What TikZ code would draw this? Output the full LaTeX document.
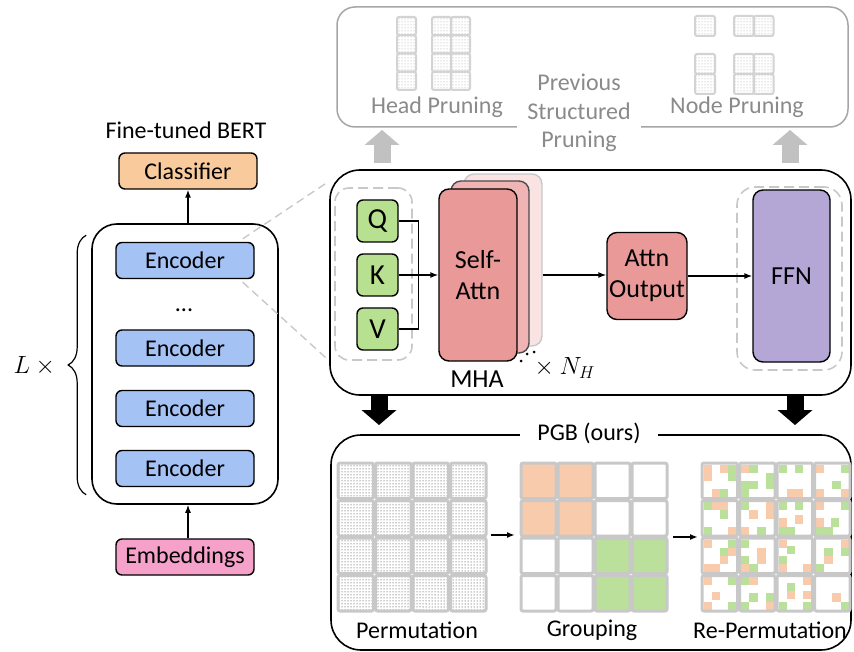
\documentclass[tikz,border=0pt]{standalone}
\usepackage{fontspec}
\setmainfont{Carlito}
\usetikzlibrary{arrows.meta,patterns,decorations.pathreplacing}

\definecolor{clsorange}{HTML}{F9CB9C}
\definecolor{encblue}{HTML}{A4C2F4}
\definecolor{embpink}{HTML}{F6A1C9}
\definecolor{qkvgreen}{HTML}{B7E091}
\definecolor{attnred}{HTML}{EA9999}
\definecolor{headred}{HTML}{F1B4B4}
\definecolor{ghostred}{HTML}{FAE3E3}
\definecolor{ffnpurple}{HTML}{B4A7D6}
\definecolor{grpor}{HTML}{F8CBAD}
\definecolor{grpgr}{HTML}{BBE09B}
\definecolor{cellgray}{HTML}{C8C8C8}
\definecolor{fadegray}{HTML}{A6A6A6}
\definecolor{fadetext}{HTML}{8A8A8A}

\begin{document}
\begin{tikzpicture}[x=1pt,y=-1pt,
  every node/.style={font=\fontsize{24}{29}\selectfont},
  blk/.style={draw,line width=1.4,rounded corners=6,inner sep=0},
  encbox/.style={blk,minimum width=138,minimum height=36},
  qkvbox/.style={blk,fill=qkvgreen,minimum width=41,minimum height=42,font=\fontsize{29}{33}\selectfont},
  headbox/.style={blk,rounded corners=10,minimum width=78,minimum height=172},
  bigbox/.style={draw,line width=1.6,rounded corners=30,inner sep=0},
  dashbox/.style={draw=cellgray,line width=1.6,dash pattern=on 10pt off 5pt,rounded corners=14,inner sep=0},
  midfont/.style={font=\fontsize{26}{31}\selectfont},
  conn/.style={line width=1.4,-{Latex[length=8pt,width=6pt]}},
  zoomline/.style={draw=cellgray,line width=1.4,dash pattern=on 8pt off 5pt},
  fatarrow/.style={line width=17,-{Triangle[width=35pt,length=15pt,line width=0pt]}},
  cellbox/.style={draw=cellgray,line width=3,rounded corners=2},
  minicell/.style={draw=cellgray!80,line width=2,rounded corners=2,pattern=dots,pattern color=gray!75},
  toptext/.style={text=fadetext}
]
\useasboundingbox (0,0) rectangle (854,652);

% left column: fine-tuned BERT
\node (bert) at (186,130) {Fine-tuned BERT};
\node[encbox,fill=clsorange] (cls) at (188,171) {Classifier};
\node[bigbox,rounded corners=25,minimum width=186,minimum height=280] (stack) at (185,364) {};
\node[encbox,fill=encblue] (enc1) at (185,260.5) {Encoder};
\node (vdots) at (184,310) {...};
\foreach \n/\ypos in {2/348,3/408.5,4/468.5}
  \node[encbox,fill=encblue] (enc\n) at (185,\ypos) {Encoder};
\node[encbox,fill=embpink] (emb) at (185,557) {Embeddings};
\draw[conn] (cls.south |- stack.north) -- (cls.south);
\draw[conn] (emb.north -| cls.south) -- (stack.south -| cls.south);
\draw[line width=1.2,decorate,decoration={brace,amplitude=18}]
  ([xshift=-5,yshift=10]stack.south west) -- ([xshift=-5,yshift=-12]stack.north west);
\node (lx) at (37,366) {$L \times{}$};

% encoder layer
\node[bigbox,minimum width=521,minimum height=225] (mid) at (590.5,282.5) {};
\draw[zoomline] ([xshift=-12,yshift=3]enc1.north east) -- ([yshift=-12]mid.north west);
\draw[zoomline] ([xshift=-12,yshift=-3]enc1.south east) -- ([yshift=35]mid.south west);
\node[dashbox,minimum width=77,minimum height=172] (qkvgrp) at (373.5,274) {};
\node[qkvbox] (q) at (377.5,221) {Q};
\node[qkvbox] (k) at (377.5,275) {K};
\node[qkvbox] (v) at (377.5,329) {V};
\node[headbox,draw=cellgray,fill=ghostred] (sa3) at (503,260) {};
\node[headbox,draw=black!70,fill=headred] (sa2) at (490,267) {};
\node[headbox,fill=attnred,midfont,align=center] (sa1) at (478,275) {Self-\\Attn};
\draw[line width=1.4] (q.east) -- ++(20,0) |- (v.east);
\draw[conn] (k.east) -- (sa1.west);
\node[midfont] (mha) at (477,379) {MHA};
\fill (521,361) circle[radius=1.5pt] (527,354) circle[radius=1.5pt] (534,352) circle[radius=1.5pt];
\node[midfont] (nh) at (562,368) {${}\times N_H$};
\node[blk,fill=attnred,midfont,align=center,minimum width=80,minimum height=87,rounded corners=10] (attn) at (647,276) {Attn\\Output};
\node[dashbox,minimum width=105,minimum height=183,rounded corners=18] (ffngrp) at (789.5,278.5) {};
\node[blk,fill=ffnpurple,midfont,minimum width=77,minimum height=172,rounded corners=10] (ffn) at (791.5,276) {FFN};
\draw[conn] (sa1.east -| sa3.east) -- (sa1.east -| attn.west);
\draw[conn] (attn.east) -- (attn.east -| ffn.west);

% previous structured pruning
\node[draw=fadegray,line width=1.5,rounded corners=18,minimum width=511,minimum height=120] (prev) at (592.5,67) {};
\foreach \mx/\my in {397/17,397/35.25,397/53.5,397/71.75,
  432/17,432/35.25,432/53.5,432/71.75,451/17,451/35.25,451/53.5,451/71.75}
  \draw[minicell] (\mx,\my) rectangle ++(19,18.25);
\foreach \mx/\my in {695/16,734/16,753.5/16,695/54,695/74,734/54,753.5/54,734/74,753.5/74}
  \draw[minicell] (\mx,\my) rectangle ++(20,20);
\node[toptext] (hp) at (437,107) {Head Pruning};
\node[toptext] (np) at (737,107) {Node Pruning};
\node[toptext,fill=white,align=center,inner xsep=10,inner ysep=0,font=\fontsize{24}{28.5}\selectfont] (psp) at (579,113) {Previous\\Structured\\Pruning};
\coordinate (hpa) at (382,163);
\coordinate (npa) at (790,163);
\draw[fatarrow,fadegray!70] (hpa) -- ++(0,-33);
\draw[fatarrow,fadegray!70] (npa) -- ++(0,-33);

% PGB
\coordinate (mhad) at (379,395);
\coordinate (ffnd) at (795,395);
\draw[fatarrow] (mhad) -- ++(0,30);
\draw[fatarrow] (ffnd) -- ++(0,30);
\node[bigbox,minimum width=520,minimum height=215] (pgbbox) at (591,542.5) {};
\node[fill=white,inner xsep=17] (pgb) at (589,433) {PGB (ours)};
% permutation
\foreach \i in {0,...,3}
  \foreach \j in {0,...,3}
    \draw[cellbox,pattern=dots,pattern color=black!85] ({337+\i*37.5+1},{462+\j*37.5+1}) rectangle ++(35.5,35.5);
% grouping
\foreach \i/\j/\clr in {0/0/grpor,1/0/grpor,0/1/grpor,1/1/grpor,2/0/white,3/0/white,2/1/white,3/1/white,
  0/2/white,1/2/white,0/3/white,1/3/white,2/2/grpgr,3/2/grpgr,2/3/grpgr,3/3/grpgr}
  \draw[cellbox,fill=\clr] ({520+\i*37+1},{462+\j*37.5+1}) rectangle ++(35,35.5);
% re-permutation
\foreach \i/\j/\c/\r/\clr in {
  0/0/0/0/or,0/0/0/1/or,0/0/2/0/or,0/0/3/0/gr,0/0/3/1/gr,0/0/1/3/or,0/0/2/3/gr,
  1/0/0/0/or,1/0/1/0/gr,1/0/3/1/gr,1/0/3/2/gr,1/0/0/2/gr,1/0/1/2/gr,1/0/0/3/gr,
  2/0/0/0/gr,2/0/2/0/gr,2/0/1/3/or,2/0/2/3/or,
  3/0/0/0/or,3/0/3/0/gr,3/0/2/2/gr,3/0/0/3/or,3/0/3/3/or,
  0/1/0/0/gr,0/1/1/0/or,0/1/2/0/or,0/1/2/1/gr,0/1/0/3/gr,0/1/3/3/or,
  1/1/0/0/gr,1/1/3/0/or,1/1/3/1/or,1/1/1/1/or,1/1/0/3/or,1/1/2/3/gr,
  2/1/0/0/gr,2/1/2/0/gr,2/1/0/2/or,2/1/2/1.6/or,2/1/0/3/gr,2/1/1/3/gr,
  3/1/0/0/or,3/1/3/0/gr,3/1/0/2/or,3/1/1.8/2/gr,3/1/0/3/gr,3/1/1/3/gr,
  0/2/0/0/or,0/2/3/0/gr,0/2/2/1/gr,0/2/3/1/or,0/2/2/2/or,0/2/0/3/or,0/2/1/3/or,
  1/2/0/0/gr,1/2/2/1/or,1/2/2/2/or,1/2/0/2/gr,1/2/0/3/or,1/2/1/3/gr,
  2/2/0/0/or,2/2/1/0.8/gr,2/2/0/2/gr,2/2/0/3/or,2/2/3/3/or,
  3/2/3/0/or,3/2/1/1/gr,3/2/3/1/gr,3/2/1/2/or,3/2/0/3/gr,
  0/3/0/0/or,0/3/3/0/gr,0/3/1/1.8/or,0/3/0/3/or,0/3/3/3/gr,
  1/3/0/0/gr,1/3/1/0/or,1/3/1/2/gr,1/3/3/2/gr,1/3/0/3/gr,1/3/3/3/or,
  2/3/3/0/or,2/3/1/0.7/gr,2/3/1/1.7/or,2/3/3/1.7/or,2/3/0/3/gr,2/3/3/3/gr,
  3/3/2/2/or,3/3/3/3/gr}
  \fill[grp\clr] ({701+\i*37.5+2.5+\c*8.2},{462+\j*37.5+2.5+\r*8.2}) rectangle ++(8.4,8.4);
\foreach \i in {0,...,3}
  \foreach \j in {0,...,3}
    \draw[cellbox] ({701+\i*37.5+1},{462+\j*37.5+1}) rectangle ++(35.5,35.5);
\coordinate (permr) at (491,535);
\coordinate (grpl) at (515,535);
\coordinate (grpr) at (673,537);
\coordinate (repl) at (698,537);
\draw[conn,line width=2] (permr) -- (grpl);
\draw[conn,line width=2] (grpr) -- (repl);
\node (permlab) at (417,630) {Permutation};
\node (grplab) at (592,630) {Grouping};
\node (replab) at (770,630) {Re-Permutation};
\end{tikzpicture}
\end{document}
